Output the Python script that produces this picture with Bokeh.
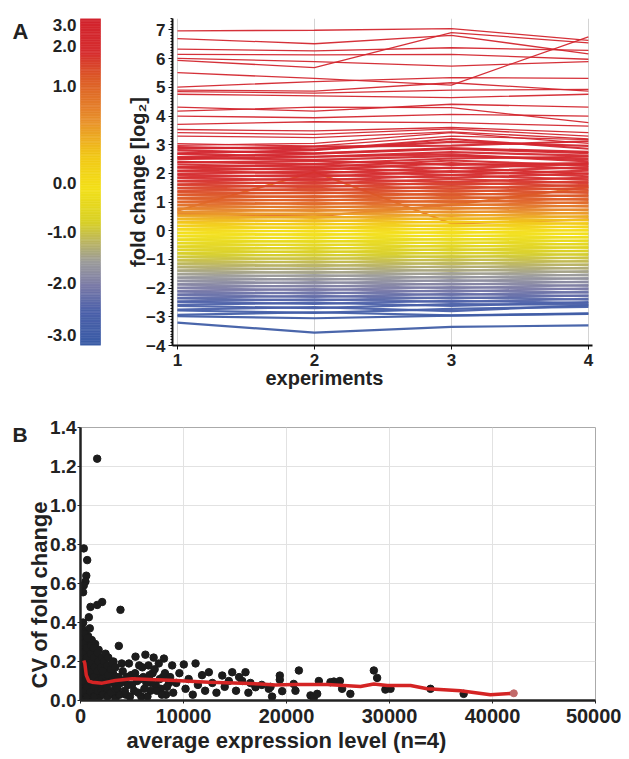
import numpy as np
from bokeh.plotting import figure
from bokeh.layouts import column, row
from bokeh.models import (FixedTicker, SingleIntervalTicker, ColumnDataSource,
                          Range1d, NumeralTickFormatter, Title)
from bokeh.core.properties import value
from bokeh.embed import file_html
from bokeh.resources import INLINE

# ---------------- Panel A data: log2 fold change of each gene in 4 experiments
experiments = [1, 2, 3, 4]
exp1 = [6.97, 6.70, 6.33, 6.15, 6.01, 5.51, 5.01, 4.90, 4.76, 4.31, 4.17, 4.00, 3.71, 3.53, 3.42, 3.30, 5.94, 4.85, 0.70, 0.60,
        3.04, 2.98, 2.92, 2.86, 2.80, 2.70, 2.68, 2.57, 2.55, 2.50,
        2.40, 2.38, 2.31, 2.22, 2.20, 2.10, 2.08, 1.98, 1.95, 1.86,
        1.84, 1.74, 1.72, 1.62, 1.60, 1.50, 1.48, 1.38, 1.35, 1.26,
        1.24, 1.14, 1.12, 1.02, 1.00, 0.90, 0.88, 0.78, 0.76, 0.66,
        0.64, 0.54, 0.52, 0.42, 0.40, 0.30, 0.28, 0.18, 0.16, 0.06,
        0.04, -0.06, -0.08, -0.18, -0.20, -0.30, -0.32, -0.42, -0.44, -0.54,
        -0.56, -0.66, -0.68, -0.78, -0.80, -0.90, -0.92, -1.02, -1.04, -1.14,
        -1.16, -1.26, -1.28, -1.38, -1.40, -1.50, -1.52, -1.62, -1.64, -1.74,
        -1.76, -1.86, -1.88, -1.98, -2.00, -2.10, -2.12, -2.22, -2.24, -2.34,
        -2.36, -2.46, -2.48, -2.58, -2.62, -2.75, -2.78, -2.93, -2.98, -3.20]
exp2 = [6.99, 6.52, 6.27, 6.13, 5.90, 5.31, 5.20, 4.87, 4.70, 4.17, 4.31, 3.94, 3.80, 3.48, 3.36, 3.25, 5.69, 4.80, 2.05, 0.50,
        2.95, 3.05, 2.84, 2.93, 2.70, 2.81, 2.58, 2.69, 2.47, 2.58,
        2.33, 2.44, 2.22, 2.31, 2.12, 2.19, 2.00, 2.07, 1.88, 1.95,
        1.76, 1.82, 1.64, 1.70, 1.52, 1.58, 1.40, 1.46, 1.30, 1.33,
        1.17, 1.21, 1.05, 1.09, 0.93, 0.97, 0.81, 0.85, 0.69, 0.73,
        0.57, 0.61, 0.45, 0.49, 0.33, 0.37, 0.21, 0.25, 0.09, 0.13,
        -0.03, 0.01, -0.15, -0.11, -0.27, -0.23, -0.39, -0.35, -0.51, -0.47,
        -0.63, -0.59, -0.75, -0.71, -0.87, -0.83, -0.99, -0.95, -1.11, -1.07,
        -1.23, -1.19, -1.35, -1.31, -1.47, -1.43, -1.59, -1.55, -1.71, -1.67,
        -1.83, -1.79, -1.95, -1.91, -2.07, -2.03, -2.19, -2.15, -2.31, -2.27,
        -2.43, -2.39, -2.55, -2.51, -2.70, -2.66, -2.86, -2.84, -3.05, -3.55]
exp3 = [7.05, 6.81, 6.38, 6.15, 5.74, 5.08, 5.34, 5.16, 4.64, 4.41, 4.29, 4.06, 3.77, 3.60, 3.55, 3.45, 6.91, 4.90, 0.25, 0.90,
        3.30, 3.42, 3.10, 2.97, 2.88, 3.20, 2.74, 2.85, 2.60, 2.66,
        2.52, 2.30, 2.45, 2.18, 2.36, 2.05, 2.20, 1.95, 2.08, 1.84,
        1.94, 1.70, 1.80, 1.60, 1.68, 1.47, 1.55, 1.36, 1.42, 1.24,
        1.30, 1.12, 1.18, 1.00, 1.05, 0.88, 0.93, 0.76, 0.80, 0.64,
        0.68, 0.52, 0.56, 0.40, 0.44, 0.28, 0.32, 0.16, 0.20, 0.04,
        0.08, -0.08, -0.04, -0.20, -0.16, -0.32, -0.28, -0.44, -0.40, -0.56,
        -0.52, -0.68, -0.64, -0.80, -0.76, -0.92, -0.88, -1.04, -1.00, -1.16,
        -1.12, -1.28, -1.24, -1.40, -1.36, -1.52, -1.48, -1.64, -1.60, -1.76,
        -1.72, -1.88, -1.84, -2.00, -1.96, -2.12, -2.08, -2.24, -2.20, -2.36,
        -2.32, -2.48, -2.44, -2.62, -2.56, -2.80, -2.72, -2.95, -2.96, -3.35]
exp4 = [6.64, 6.17, 6.29, 5.98, 5.90, 6.76, 5.31, 4.87, 4.76, 4.31, 3.77, 4.00, 3.65, 3.42, 3.30, 3.20, 6.55, 4.93, 0.40, 1.52,
        3.18, 3.05, 2.96, 3.12, 2.75, 2.86, 2.62, 2.71, 2.50, 2.42,
        2.58, 2.36, 2.27, 2.33, 2.15, 2.22, 1.98, 2.10, 1.90, 2.00,
        1.78, 1.85, 1.66, 1.72, 1.55, 1.60, 1.43, 1.50, 1.32, 1.38,
        1.20, 1.24, 1.08, 1.12, 0.96, 1.00, 0.84, 0.88, 0.72, 0.75,
        0.60, 0.63, 0.48, 0.51, 0.36, 0.39, 0.24, 0.27, 0.12, 0.15,
        0.00, 0.03, -0.12, -0.09, -0.24, -0.21, -0.36, -0.33, -0.48, -0.45,
        -0.60, -0.57, -0.72, -0.69, -0.84, -0.81, -0.96, -0.93, -1.08, -1.05,
        -1.20, -1.17, -1.32, -1.29, -1.44, -1.41, -1.56, -1.53, -1.68, -1.65,
        -1.80, -1.77, -1.92, -1.89, -2.04, -2.01, -2.16, -2.13, -2.28, -2.25,
        -2.40, -2.37, -2.52, -2.49, -2.58, -2.60, -2.65, -2.88, -2.90, -3.30]

# colour scale of panel A (non-linear bar)
cb_labels = ["3.0", "2.0", "1.0", "0.0", "-1.0", "-2.0", "-3.0"]
cb_values = [3.0, 2.0, 1.0, 0.0, -1.0, -2.0, -3.0]
cb_fracs = [0.979, 0.917, 0.795, 0.498, 0.346, 0.190, 0.031]
cb_stop_fracs = [0.0, 0.107, 0.18, 0.255, 0.31, 0.376, 0.48, 0.58, 0.69, 0.82, 0.893, 1.0]
cb_stop_colors = ["#3a5ca6", "#4e62aa", "#7a7aa8", "#9c9c9c", "#b8b268", "#d8d028",
                  "#f3e01a", "#f2c818", "#e8902c", "#dc5a28", "#d63030", "#d2232e"]

# ---------------- Panel B data
expr_level = [1620, 320, 650, 560, 480, 320, 250, 970, 1620, 2100, 810, 3880, 3720,
              120, 180, 100, 200, 140, 90, 210, 150, 260,
              430, 480, 400, 520, 460, 420, 530, 470,
              780, 820, 760, 850, 790, 880, 740, 900,
              1120, 1170, 1100, 1200, 1140, 1230, 1090,
              1480, 1530, 1450, 1560, 1500, 1420,
              1830, 1880, 1800, 1900, 1850, 1760,
              300, 330, 280, 350, 310, 290, 360,
              620, 650, 600, 680, 640, 610, 670,
              970, 1000, 950, 1020, 990, 1050,
              1320, 1350, 1300, 1370, 1330, 1280,
              1680, 1700, 1650, 1720, 1660,
              2050, 2080, 2020, 2100, 2400, 2450, 2380, 2800, 2850, 2780,
              3200, 3250, 3150, 3200,
              2200, 2250, 2150, 2300, 2430, 2620, 2580, 2680, 2600, 2700,
              3000, 3050, 2950, 3100, 3400, 3350, 3450, 3380,
              3600, 3700, 4000, 4200, 4400, 4600, 4900, 5200, 5500, 5700, 5900,
              6100, 6400, 6600, 6800, 7000, 7300, 7600, 7800, 8000, 8300, 8600,
              3800, 3900, 4100, 4300, 4500, 4700, 4800, 5000, 5300, 5340, 5600, 5800, 6000, 6300, 6200,
              6500, 6700, 6900, 7100, 7200, 7400, 7700, 7900, 8100, 8200, 8400, 8700, 8900, 9000,
              9300, 9600, 10030, 10200, 10500, 10900, 11170, 11400, 11800, 12100, 12460, 12800,
              13200, 13760, 14000, 14400, 14730, 15100, 15400, 15700, 16020, 16300, 16990, 16500,
              17600, 18280, 18450, 18600, 19350, 19350, 19580, 20700, 20870, 21200, 22330, 22650,
              22980, 23140, 24270, 24600, 25180, 25400, 26200, 28480, 28800, 29600, 30100, 33980, 37200]
cv_fold_change = [1.24, 0.78, 0.72, 0.64, 0.61, 0.59, 0.555, 0.48, 0.49, 0.505, 0.427, 0.465, 0.28,
                  0.02, 0.07, 0.12, 0.17, 0.22, 0.27, 0.32, 0.37, 0.40,
                  0.01, 0.05, 0.10, 0.15, 0.20, 0.25, 0.30, 0.35,
                  0.03, 0.08, 0.13, 0.18, 0.23, 0.28, 0.33, 0.37,
                  0.01, 0.06, 0.11, 0.16, 0.21, 0.26, 0.31,
                  0.04, 0.09, 0.14, 0.19, 0.24, 0.29,
                  0.02, 0.07, 0.12, 0.17, 0.22, 0.26,
                  0.045, 0.095, 0.145, 0.195, 0.245, 0.295, 0.345,
                  0.02, 0.07, 0.12, 0.17, 0.22, 0.27, 0.32,
                  0.045, 0.095, 0.145, 0.195, 0.24, 0.28,
                  0.02, 0.07, 0.12, 0.17, 0.22, 0.27,
                  0.05, 0.10, 0.15, 0.20, 0.245,
                  0.05, 0.11, 0.17, 0.22, 0.05, 0.12, 0.18, 0.045, 0.11, 0.16,
                  0.03, 0.09, 0.14, 0.20,
                  0.03, 0.09, 0.15, 0.20, 0.24, 0.02, 0.07, 0.13, 0.18, 0.22,
                  0.04, 0.10, 0.16, 0.19, 0.01, 0.06, 0.12, 0.17,
                  0.06, 0.12, 0.19, 0.10, 0.03, 0.08, 0.13, 0.05, 0.10, 0.18, 0.02,
                  0.12, 0.09, 0.18, 0.05, 0.14, 0.08, 0.19, 0.06, 0.12, 0.03, 0.09,
                  0.03, 0.09, 0.15, 0.05, 0.12, 0.19, 0.02, 0.08, 0.14, 0.225, 0.04, 0.11, 0.17, 0.235, 0.06,
                  0.02, 0.13, 0.09, 0.22, 0.16, 0.05, 0.11, 0.03, 0.215, 0.14, 0.07, 0.12, 0.18, 0.04,
                  0.09, 0.14, 0.185, 0.06, 0.11, 0.03, 0.19, 0.08, 0.13, 0.05, 0.145, 0.09,
                  0.04, 0.128, 0.07, 0.10, 0.145, 0.05, 0.12, 0.10, 0.145, 0.04, 0.068, 0.09,
                  0.08, 0.06, 0.07, 0.02, 0.128, 0.106, 0.048, 0.085, 0.05, 0.154, 0.026, 0.014,
                  0.034, 0.10, 0.094, 0.097, 0.10, 0.06, 0.034, 0.154, 0.116, 0.056, 0.06, 0.06, 0.034]
trend_x = [320, 420, 560, 800, 1130, 2100, 3400, 5020, 9220, 12460, 15700, 17480, 18930, 20700,
           23950, 27180, 28480, 29780, 32040, 33660, 36900, 39800, 42070]
trend_y = [0.205, 0.19, 0.13, 0.10, 0.094, 0.089, 0.103, 0.111, 0.103, 0.094, 0.089, 0.085, 0.080, 0.082,
           0.082, 0.072, 0.085, 0.077, 0.077, 0.060, 0.050, 0.030, 0.037]

FONT = "Liberation Sans"
TXT = "#222222"


def hex2rgb(h):
    return [int(h[i:i + 2], 16) for i in (1, 3, 5)]


stop_rgb = np.array([hex2rgb(c) for c in cb_stop_colors], dtype=float)


def frac_to_color(f):
    rgb = [np.interp(f, cb_stop_fracs, stop_rgb[:, k]) for k in range(3)]
    return "#%02x%02x%02x" % tuple(int(round(v)) for v in rgb)


def value_to_color(v):
    f = np.interp(v, cb_values[::-1], cb_fracs[::-1])
    return frac_to_color(f)


def style_axis(ax, size):
    ax.major_label_text_font = FONT
    ax.major_label_text_font_size = size
    ax.major_label_text_font_style = "bold"
    ax.major_label_text_color = TXT
    ax.axis_label_text_font = FONT
    ax.axis_label_text_font_style = "bold"
    ax.axis_label_text_color = TXT


def bare(fig):
    fig.grid.visible = False
    fig.outline_line_color = None


def axis_title(text, size, offset, standoff):
    return Title(text=text, align="left", offset=offset, standoff=standoff, text_font=FONT,
                 text_font_size=size, text_font_style="bold", text_color=TXT)


# ---------------- colour bar figure (its frame is aligned with panel A's frame by the row)
TOP_H = 400
CB_W = 120
fig_cb = figure(width=CB_W, height=TOP_H, x_range=Range1d(0, CB_W), y_range=Range1d(0, 1),
                output_backend="svg", toolbar_location=None, title=None,
                x_axis_location=None, y_axis_location=None,
                min_border_left=0, min_border_right=0, min_border_top=18, min_border_bottom=TOP_H - 345)
bare(fig_cb)
nseg = 200
edges = np.linspace(0, 1, nseg + 1)
fig_cb.quad(left=80, right=100, bottom=edges[:-1], top=edges[1:],
            color=[frac_to_color((a + b) / 2) for a, b in zip(edges[:-1], edges[1:])], line_width=0.6)
fig_cb.text(x=[76] * len(cb_fracs), y=cb_fracs, text=cb_labels, text_align="right",
            text_baseline="middle", text_font=value(FONT), text_font_size="17px",
            text_font_style="bold", text_color=TXT)
fig_cb.text(x=[12], y=[1.0], text=["A"], text_align="left", text_baseline="top",
            text_font=value(FONT), text_font_size="22px", text_font_style="bold", text_color=TXT)

# ---------------- panel A
fig_a = figure(width=484, height=TOP_H, x_range=Range1d(0.964, 4.03), y_range=Range1d(-4, 7.4),
               output_backend="svg", toolbar_location=None, title=None,
               min_border_left=52, min_border_right=12, min_border_top=18, min_border_bottom=TOP_H - 345)
profiles = [list(v) for v in zip(exp1, exp2, exp3, exp4)]
means = [float(np.mean(p)) for p in profiles]
src_a = ColumnDataSource(dict(
    xs=[experiments] * len(profiles),
    ys=profiles,
    color=[value_to_color(m) for m in means],
    width=[1.3 if m > 3.1 else 2.2 for m in means],
))
fig_a.multi_line(xs="xs", ys="ys", line_color="color", line_width="width", line_alpha=0.95, source=src_a)
fig_a.ygrid.visible = False
fig_a.xgrid.grid_line_color = "#d4d4d4"
fig_a.xgrid.ticker = FixedTicker(ticks=experiments)
fig_a.outline_line_color = None
fig_a.xaxis.ticker = FixedTicker(ticks=experiments)
fig_a.yaxis.ticker = SingleIntervalTicker(interval=1, num_minor_ticks=10)
for ax in (fig_a.xaxis, fig_a.yaxis):
    ax.axis_line_width = 2
    ax.axis_line_color = "#111111"
    ax.major_tick_line_color = "#111111"
    ax.major_tick_in = 0
    ax.major_tick_out = 4
    ax.minor_tick_line_color = "#111111"
    ax.minor_tick_in = 0
    ax.minor_tick_out = 2
    style_axis(ax, "17px")
fig_a.yaxis.axis_label = "fold change [log\u2082]"
fig_a.yaxis.axis_label_text_font_size = "20px"
fig_a.xaxis.major_label_standoff = 4
fig_a.yaxis.major_label_standoff = 3
fig_a.yaxis.axis_label_standoff = -6
fig_a.add_layout(axis_title("experiments", "20px", 93, -8), "below")

# ---------------- panel B
B_H = 358
B_LAB_W = 27
fig_blab = figure(width=B_LAB_W, height=B_H, x_range=Range1d(0, B_LAB_W), y_range=Range1d(0, 1),
                  output_backend="svg", toolbar_location=None, title=None,
                  x_axis_location=None, y_axis_location=None,
                  min_border_left=0, min_border_right=0, min_border_top=27, min_border_bottom=58)
bare(fig_blab)
fig_blab.text(x=[12], y=[1.015], text=["B"], text_align="left", text_baseline="top",
              text_font=value(FONT), text_font_size="21px", text_font_style="bold", text_color=TXT)

fig_b = figure(width=621 - B_LAB_W, height=B_H, x_range=Range1d(0, 50000), y_range=Range1d(0, 1.4),
               output_backend="svg", toolbar_location=None, title=None,
               min_border_left=80 - B_LAB_W, min_border_right=26, min_border_top=27, min_border_bottom=58)
fig_b.scatter(expr_level, cv_fold_change, size=7.5, color="#1c1c1c")
fig_b.line(trend_x, trend_y, line_color="#d42424", line_width=3.5)
fig_b.scatter(trend_x[-1:], trend_y[-1:], size=7, color="#c26a6a")
fig_b.grid.grid_line_color = "#e2e2e2"
fig_b.outline_line_color = "#aaaaaa"
xt = [0, 10000, 20000, 30000, 40000, 50000]
yt = [0, 0.2, 0.4, 0.6, 0.8, 1.0, 1.2, 1.4]
fig_b.xaxis.ticker = FixedTicker(ticks=xt)
fig_b.yaxis.ticker = FixedTicker(ticks=yt)
fig_b.xgrid.ticker = FixedTicker(ticks=xt)
fig_b.ygrid.ticker = FixedTicker(ticks=yt)
fig_b.yaxis.formatter = NumeralTickFormatter(format="0.0")
fig_b.xaxis.formatter = NumeralTickFormatter(format="0")
for ax in (fig_b.xaxis, fig_b.yaxis):
    ax.axis_line_width = 2.5
    ax.axis_line_color = "#222222"
    ax.major_tick_line_color = "#222222"
    ax.major_tick_in = 0
    ax.major_tick_out = 3
    ax.minor_tick_line_color = None
fig_b.xaxis.major_label_standoff = 5
fig_b.yaxis.major_label_standoff = 1
style_axis(fig_b.xaxis, "20px")
style_axis(fig_b.yaxis, "19px")
fig_b.add_layout(axis_title("average expression level (n=4)", "22px", 46, 1), "below")
fig_b.add_layout(axis_title("CV of fold change", "22px", 12, -8), "left")

layout = column(row(fig_cb, fig_a), row(fig_blab, fig_b))
open("out.html", "w").write(file_html(layout, INLINE))
